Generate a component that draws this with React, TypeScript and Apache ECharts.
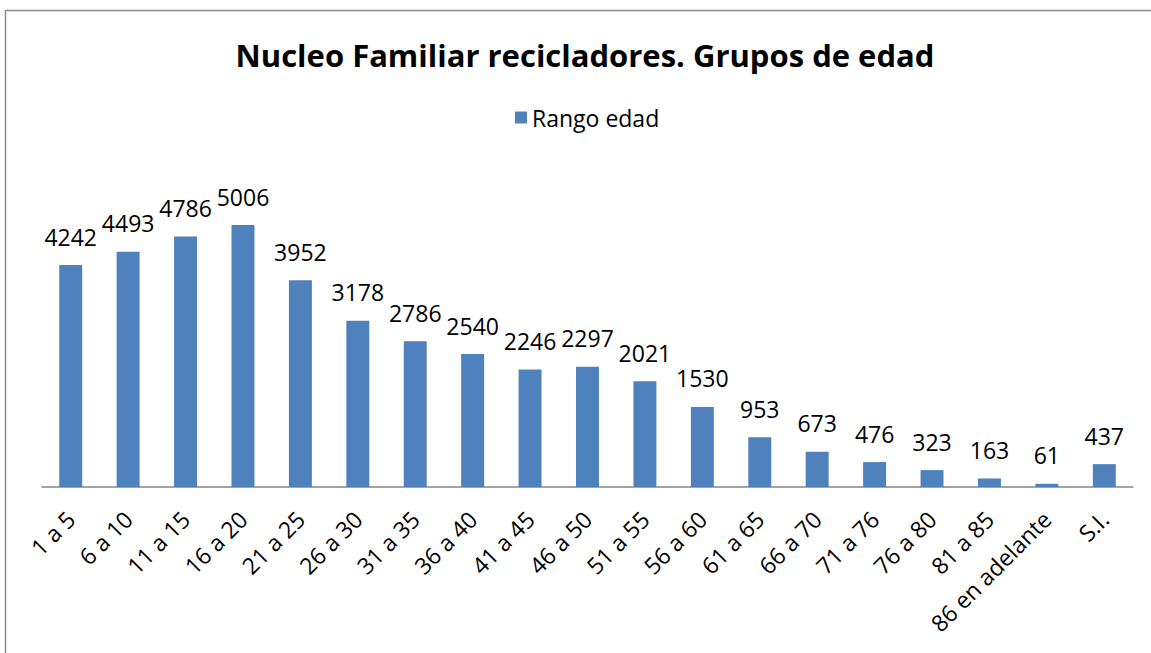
import React, { useEffect, useRef } from "react";
import * as echarts from "echarts";

const categories = [
  "1 a 5", "6 a 10", "11 a 15", "16 a 20", "21 a 25", "26 a 30", "31 a 35",
  "36 a 40", "41 a 45", "46 a 50", "51 a 55", "56 a 60", "61 a 65", "66 a 70",
  "71 a 76", "76 a 80", "81 a 85", "86 en adelante", "S.I.",
];
const rangoEdad = [
  4242, 4493, 4786, 5006, 3952, 3178, 2786, 2540, 2246, 2297, 2021, 1530, 953,
  673, 476, 323, 163, 61, 437,
];
const titleText = "Nucleo Familiar recicladores. Grupos de edad";
const seriesName = "Rango edad";

const FONT = "'Open Sans', 'Noto Sans', sans-serif";

export default function App() {
  const ref = useRef<HTMLDivElement>(null);
  useEffect(() => {
    if (!ref.current) return;
    const chart = echarts.init(ref.current, null, { renderer: "svg" });
    chart.setOption({
      animation: false,
      backgroundColor: "#ffffff",
      graphic: [
        {
          type: "rect",
          shape: { x: 5.5, y: 10.5, width: 1300, height: 800 },
          style: { fill: "none", stroke: "#8c8c8c", lineWidth: 1.5 },
          silent: true,
          z: -1,
        },
      ],
      title: {
        text: titleText,
        left: 580,
        textAlign: "center",
        top: 34,
        textStyle: {
          fontFamily: FONT,
          fontWeight: "bold",
          fontSize: 31,
          color: "#000000",
        },
      },
      legend: {
        data: [seriesName],
        left: 510,
        top: 101,
        icon: "rect",
        itemWidth: 12,
        itemHeight: 12,
        itemGap: 10,
        textStyle: { fontFamily: FONT, fontSize: 23, color: "#000000" },
      },
      grid: { left: 42, right: 18, top: 173, bottom: 166, containLabel: false },
      xAxis: {
        type: "category",
        data: categories,
        axisLine: { lineStyle: { color: "#868686", width: 1.5 } },
        axisTick: { show: false },
        axisLabel: {
          interval: 0,
          rotate: 45,
          margin: 28,
          fontFamily: FONT,
          fontSize: 23,
          color: "#000000",
        },
      },
      yAxis: {
        type: "value",
        min: 0,
        max: 6000,
        show: false,
        splitLine: { show: false },
      },
      series: [
        {
          name: seriesName,
          type: "bar",
          data: rangoEdad,
          barWidth: "40%",
          itemStyle: { color: "#4F81BD" },
          label: {
            show: true,
            position: "top",
            distance: 17,
            fontFamily: FONT,
            fontSize: 23,
            color: "#000000",
          },
        },
      ],
    });
    return () => chart.dispose();
  }, []);
  return (
    <div
      ref={ref}
      style={{ position: "fixed", left: 0, top: 0, width: 1151, height: 653 }}
    />
  );
}
